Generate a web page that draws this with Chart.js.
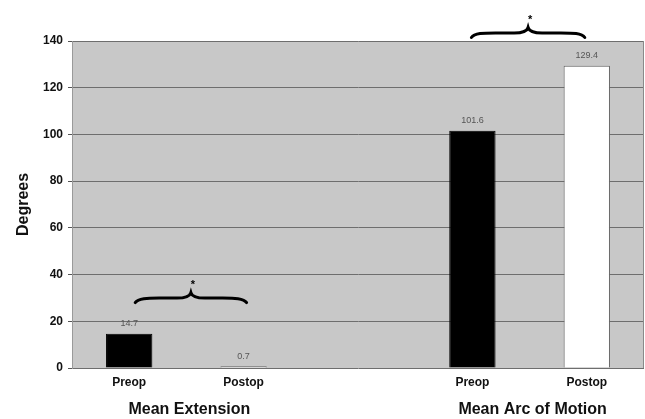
<!DOCTYPE html>
<html>
<head>
<meta charset="utf-8">
<script src="https://cdn.jsdelivr.net/npm/chart.js@4.4.1/dist/chart.umd.min.js"></script>
<style>
    body { margin: 0; background: #fff; }
</style>
</head>
<body>
<canvas id="myChart" width="645" height="419"></canvas>
<script>
// values
const categories = ['Preop', 'Postop', '', 'Preop', 'Postop'];
const degrees = [14.7, 0.7, null, 101.6, 129.4];
const groupNames = ['Mean Extension', 'Mean Arc of Motion'];
const groupIndex = [[0, 1], [3, 4]];
const yTicks = [0, 20, 40, 60, 80, 100, 120, 140];

// paint the grey plot area
const plotBackground = {
    id: 'plotBackground',
    beforeDraw(chart) {
        const { ctx, chartArea } = chart;
        ctx.save();
        ctx.fillStyle = '#c8c8c8';
        ctx.fillRect(chartArea.left, chartArea.top, chartArea.right - chartArea.left, chartArea.bottom - chartArea.top);
        ctx.restore();
    },
    afterDraw(chart) {
        const { ctx, chartArea } = chart;
        ctx.save();
        ctx.strokeStyle = '#8a8a8a';
        ctx.lineWidth = 1;
        ctx.beginPath();
        ctx.moveTo(chartArea.right - 0.5, chartArea.top);
        ctx.lineTo(chartArea.right - 0.5, chartArea.bottom);
        ctx.stroke();
        ctx.restore();
    }
};

// numbers above the bars, group names under the axis, braces with asterisks
const annotations = {
    id: 'annotations',
    afterDatasetsDraw(chart) {
        const { ctx } = chart;
        const x = chart.scales.x;
        const y = chart.scales.y;
        const meta = chart.getDatasetMeta(0);

        ctx.save();
        ctx.fillStyle = '#555';
        ctx.font = '9px "Liberation Sans", Arial, sans-serif';
        ctx.textAlign = 'center';
        ctx.textBaseline = 'middle';
        meta.data.forEach((bar, i) => {
            if (degrees[i] === null) return;
            ctx.fillText(degrees[i].toFixed(1), bar.x, bar.y - 10);
        });

        ctx.fillStyle = '#111';
        ctx.font = 'bold 16px "Liberation Sans", Arial, sans-serif';
        groupIndex.forEach((pair, g) => {
            const cx = (x.getPixelForValue(pair[0]) + x.getPixelForValue(pair[1])) / 2;
            ctx.fillText(groupNames[g], cx + 3, 410);
        });

        drawBrace(ctx, x.getPixelForValue(0) + 6, x.getPixelForValue(1) + 3, y.getPixelForValue(28));
        drawBrace(ctx, x.getPixelForValue(3) - 1, x.getPixelForValue(4) - 2, y.getPixelForValue(141.5));
        ctx.restore();
    }
};

function drawBrace(ctx, x0, x1, yb) {
    const h = 10;
    const xm = (x0 + x1) / 2;
    const ym = yb - h * 0.45;
    ctx.strokeStyle = '#000';
    ctx.lineWidth = 3;
    ctx.lineCap = 'round';
    ctx.beginPath();
    ctx.moveTo(x0, yb);
    ctx.bezierCurveTo(x0 + 3, ym, x0 + 12, ym, x0 + 24, ym);
    ctx.lineTo(xm - 14, ym);
    ctx.bezierCurveTo(xm - 4, ym, xm - 1, ym - 2, xm, yb - h);
    ctx.bezierCurveTo(xm + 1, ym - 2, xm + 4, ym, xm + 14, ym);
    ctx.lineTo(x1 - 24, ym);
    ctx.bezierCurveTo(x1 - 12, ym, x1 - 3, ym, x1, yb);
    ctx.stroke();

    ctx.fillStyle = '#000';
    ctx.font = 'bold 11px "Liberation Sans", Arial, sans-serif';
    ctx.textAlign = 'center';
    ctx.textBaseline = 'middle';
    ctx.fillText('*', xm + 2, yb - h - 8);
}

const ctx = document.getElementById('myChart').getContext('2d');
const myChart = new Chart(ctx, {
    type: 'bar',
    data: {
        labels: categories,
        datasets: [{
            label: 'Degrees',
            data: degrees,
            backgroundColor: c => categories[c.dataIndex] === 'Preop' ? '#000000' : '#ffffff',
            borderColor: c => categories[c.dataIndex] === 'Preop' ? '#000000' : '#666666',
            borderWidth: 1,
            categoryPercentage: 1,
            barPercentage: 0.405
        }]
    },
    options: {
        responsive: false,
        animation: false,
        layout: { padding: { top: 41, right: 1, left: 0, bottom: 0 } },
        plugins: {
            legend: { display: false },
            tooltip: { enabled: false }
        },
        scales: {
            x: {
                grid: { display: false, drawTicks: false },
                border: { display: false },
                ticks: {
                    color: '#111',
                    padding: 7,
                    font: { family: '"Liberation Sans", Arial, sans-serif', size: 12, weight: 'bold' }
                },
                afterFit: scale => { scale.height = 51; }
            },
            y: {
                min: 0,
                max: 140,
                afterBuildTicks: scale => { scale.ticks = yTicks.map(v => ({ value: v })); },
                grid: { color: '#6e6e6e', tickLength: 4, tickColor: '#555' },
                border: { color: '#9a9a9a' },
                ticks: {
                    color: '#111',
                    padding: 5,
                    font: { family: '"Liberation Sans", Arial, sans-serif', size: 12, weight: 'bold' }
                },
                title: {
                    display: true,
                    text: 'Degrees',
                    color: '#111',
                    padding: { top: 14, bottom: 0 },
                    font: { family: '"Liberation Sans", Arial, sans-serif', size: 16, weight: 'bold' }
                },
                afterFit: scale => { scale.width = 72; }
            }
        }
    },
    plugins: [plotBackground, annotations]
});
</script>
</body>
</html>
